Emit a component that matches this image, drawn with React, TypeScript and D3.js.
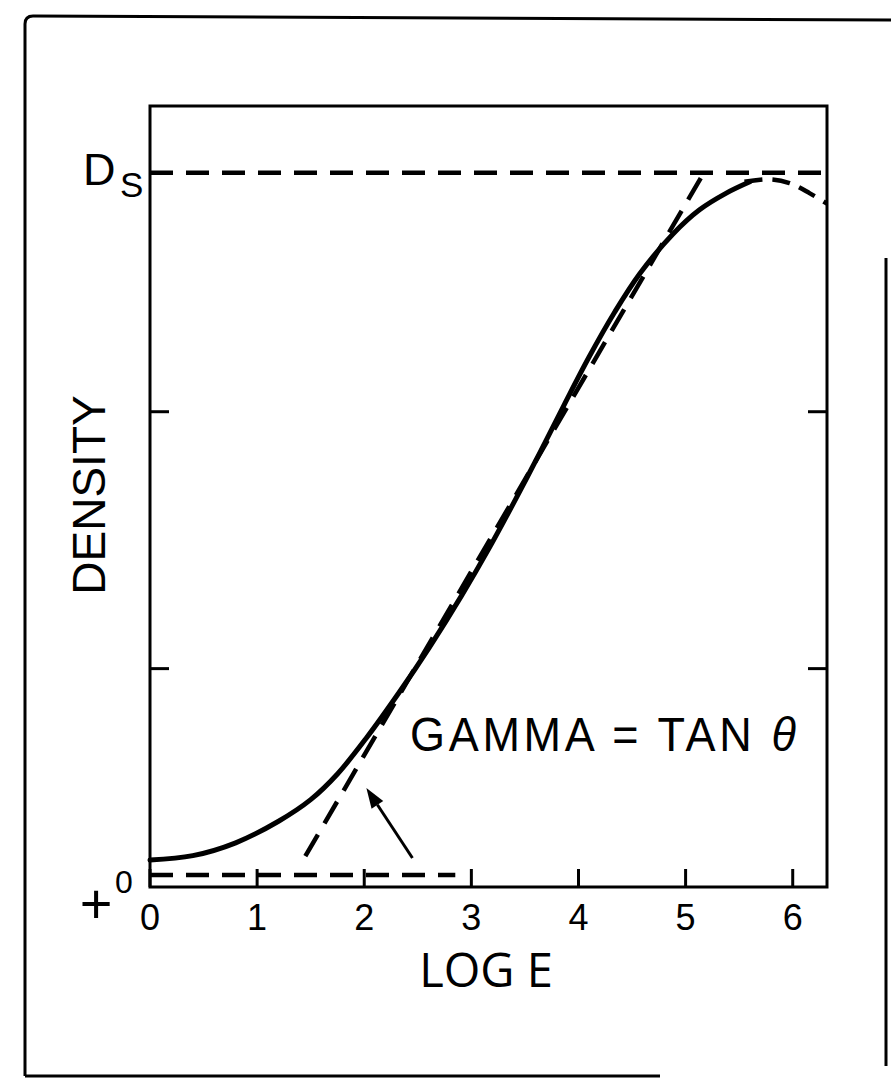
import React from "react";
import * as d3 from "d3";

const W = 891;
const H = 1084;

// characteristic (H&D) curve: log exposure vs density
const curveLogE = [0, 0.4, 0.8, 1.2, 1.5, 1.75, 2.02, 2.33, 2.61, 2.91, 3.17, 3.41, 3.64, 3.87, 4.1, 4.34, 4.57, 4.88, 5.13, 5.38, 5.6];
const curveDensity = [0.255, 0.272, 0.322, 0.406, 0.49, 0.59, 0.73, 0.91, 1.084, 1.285, 1.472, 1.657, 1.841, 2.03, 2.214, 2.389, 2.536, 2.691, 2.786, 2.851, 2.895];

// dashed shoulder continuation
const shoulderLogE = [5.55, 5.78, 5.97, 6.16, 6.32];
const shoulderDensity = [2.895, 2.905, 2.89, 2.85, 2.81];

// straight-line (gamma) segment
const gammaLogE = [1.45, 5.17];
const gammaDensity = [0.27, 2.93];

const dMax = 2.93; // D_S
const baseFog = 0.197; // base + fog dashed line
const baseFogEnd = 2.85;

const xTicks = [0, 1, 2, 3, 4, 5, 6];
const yTicks = [1, 2];

// arrow (tail -> head) in data units
const arrowLogE = [2.45, 2.02];
const arrowDensity = [0.263, 0.535];

export default function App() {
  const left = 150, right = 827, top = 106, bottom = 887;
  const x = d3.scaleLinear().domain([0, 6.32]).range([left, right]);
  const y = d3.scaleLinear().domain([0.15, 3.19]).range([bottom, top]);

  const line = d3
    .line<[number, number]>()
    .x((d) => x(d[0]))
    .y((d) => y(d[1]))
    .curve(d3.curveCatmullRom.alpha(0.5));

  const solid = curveLogE.map((v, i) => [v, curveDensity[i]] as [number, number]);
  const shoulder = shoulderLogE.map((v, i) => [v, shoulderDensity[i]] as [number, number]);

  const font = "'Liberation Sans', Arial, Helvetica, sans-serif";
  const dash = "23 13";

  const ax = x(arrowLogE[0]), ay = y(arrowDensity[0]);
  const hx = x(arrowLogE[1]), hy = y(arrowDensity[1]);
  const ang = Math.atan2(hy - ay, hx - ax);
  const aL = 20, aW = 7;
  const bx = hx - aL * Math.cos(ang), by = hy - aL * Math.sin(ang);
  const head = `M${hx},${hy} L${bx + aW * Math.sin(ang)},${by - aW * Math.cos(ang)} L${bx - aW * Math.sin(ang)},${by + aW * Math.cos(ang)} Z`;

  return (
    <svg width={W} height={H} style={{ position: "absolute", left: 0, top: 0, background: "#fff" }}>
      <rect x={0} y={0} width={W} height={H} fill="#fff" />
      {/* outer frame */}
      <g stroke="#000" strokeWidth={3} fill="none">
        <path d={`M25,1076 L25,24 Q25,16 33,16 L891,20`} />
        <line x1={25} y1={1076} x2={660} y2={1076} />
        <line x1={886} y1={258} x2={886} y2={1066} />
      </g>

      {/* plot frame */}
      <rect x={left} y={top} width={right - left} height={bottom - top} fill="none" stroke="#000" strokeWidth={3} />

      {/* x ticks */}
      {xTicks.map((t) => (
        <g key={"xt" + t}>
          <line x1={x(t)} x2={x(t)} y1={bottom} y2={bottom - 18} stroke="#000" strokeWidth={3} />
          <text x={x(t)} y={930} fontFamily={font} fontSize={36} textAnchor="middle">{t}</text>
        </g>
      ))}
      {/* y ticks, both sides */}
      {yTicks.map((t) => (
        <g key={"yt" + t}>
          <line x1={left} x2={left + 19} y1={y(t)} y2={y(t)} stroke="#000" strokeWidth={3} />
          <line x1={right} x2={right - 19} y1={y(t)} y2={y(t)} stroke="#000" strokeWidth={3} />
        </g>
      ))}

      {/* D_S line */}
      <line x1={left} x2={right} y1={y(dMax)} y2={y(dMax)} stroke="#000" strokeWidth={4.5} strokeDasharray={dash} />
      {/* base + fog line */}
      <line x1={left} x2={x(baseFogEnd)} y1={y(baseFog)} y2={y(baseFog)} stroke="#000" strokeWidth={4.5} strokeDasharray={dash} />
      {/* gamma line */}
      <line
        x1={x(gammaLogE[0])} y1={y(gammaDensity[0])} x2={x(gammaLogE[1])} y2={y(gammaDensity[1])}
        stroke="#000" strokeWidth={4.5} strokeDasharray="25 13"
      />
      {/* shoulder */}
      <path d={line(shoulder) || ""} fill="none" stroke="#000" strokeWidth={4.5} strokeDasharray="18 10" />
      {/* solid curve */}
      <path d={line(solid) || ""} fill="none" stroke="#000" strokeWidth={5} strokeLinecap="round" />

      {/* arrow */}
      <line x1={ax} y1={ay} x2={bx} y2={by} stroke="#000" strokeWidth={3} />
      <path d={head} fill="#000" />

      {/* labels */}
      <text x={83} y={185} fontFamily={font} fontSize={45}>D</text>
      <text x={120} y={197} fontFamily={font} fontSize={35}>S</text>
      <text fontFamily={font} fontSize={46} textAnchor="middle" transform="translate(105,495) rotate(-90)">DENSITY</text>
      <text
        transform="translate(410,751) scale(1,1.08)"
        fontFamily={font}
        fontSize={45}
        textLength={386}
        lengthAdjust="spacing"
      >
        GAMMA = TAN <tspan fontStyle="italic">θ</tspan>
      </text>
      <text x={486} y={987} fontFamily="'Open Sans', 'Liberation Sans', sans-serif" fontSize={47} textAnchor="middle">LOG E</text>
      <text x={96} y={923} fontFamily={font} fontSize={56} textAnchor="middle">+</text>
      <text x={124} y={893} fontFamily={font} fontSize={32} textAnchor="middle">0</text>
    </svg>
  );
}
